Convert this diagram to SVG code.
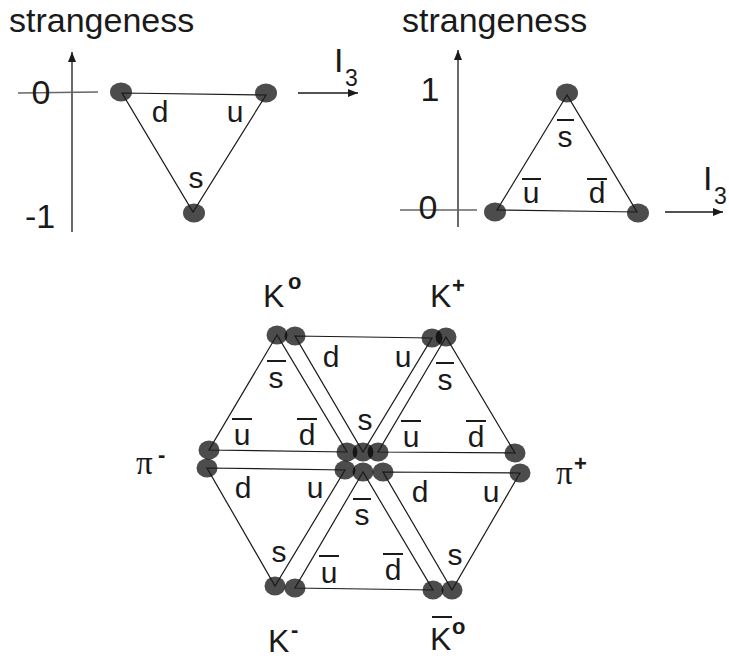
<svg xmlns="http://www.w3.org/2000/svg" width="729" height="658" viewBox="0 0 729 658">
<style>
text{font-family:"Liberation Sans",Arial,sans-serif;fill:#1a1a1a}
.big{font-size:34px}
.lab{font-size:30px;text-anchor:middle}
.part{font-size:32px}
.sup{font-size:22px;font-weight:bold}
.ax{stroke:#1a1a1a;stroke-width:1.3;fill:none}
.hax{stroke:#666;stroke-width:1.5;fill:none}
.tri{stroke:#1a1a1a;stroke-width:1.2;fill:none;stroke-linejoin:miter}
.bar{stroke:#1a1a1a;stroke-width:2}
.dot{fill:#000;fill-opacity:0.7}
.pi{font-family:"Liberation Serif","DejaVu Serif",serif;font-size:33px}
</style>
<defs>
<marker id="ah" markerWidth="10" markerHeight="8" refX="10" refY="4" orient="auto" markerUnits="userSpaceOnUse">
<path d="M0,0 L10,4 L0,8 Z" fill="#1a1a1a"/>
</marker>
</defs>

<g id="axes">
<line class="ax" x1="72" y1="232" x2="72" y2="52" marker-end="url(#ah)"/>
<line class="hax" x1="18" y1="93" x2="98" y2="92"/>
<line class="ax" x1="298" y1="93" x2="358" y2="93" marker-end="url(#ah)"/>
<line class="ax" x1="458" y1="227" x2="458" y2="50" marker-end="url(#ah)"/>
<line class="hax" x1="400" y1="210" x2="477" y2="210"/>
<line class="ax" x1="665" y1="212" x2="723" y2="212" marker-end="url(#ah)"/>
</g>

<g id="axis-labels">
<text class="big" x="9" y="32">strangeness</text>
<text class="big" x="402" y="32">strangeness</text>
<text class="big" x="41" y="104" text-anchor="middle">0</text>
<text class="big" x="25" y="228">-1</text>
<text class="big" x="430" y="101" text-anchor="middle">1</text>
<text class="big" x="428" y="219" text-anchor="middle">0</text>
<text class="big" x="334" y="72">I</text>
<text x="345" y="86" style="font-size:23px">3</text>
<text class="big" x="703" y="190">I</text>
<text x="714" y="204" style="font-size:23px">3</text>
</g>

<g id="dots-quark">
<ellipse class="dot" cx="121" cy="92" rx="11" ry="9.5"/>
<ellipse class="dot" cx="266" cy="93" rx="11" ry="9.5"/>
<ellipse class="dot" cx="194" cy="213" rx="11" ry="9.5"/>
</g>
<g id="dots-antiquark">
<ellipse class="dot" cx="567" cy="93" rx="11" ry="9.5"/>
<ellipse class="dot" cx="495" cy="212" rx="11" ry="9.5"/>
<ellipse class="dot" cx="638" cy="213" rx="11" ry="9.5"/>
</g>
<g id="node-K0"><ellipse class="dot" cx="277" cy="335" rx="10.5" ry="9.5"/><ellipse class="dot" cx="295" cy="336" rx="10.5" ry="9.5"/></g>
<g id="node-Kplus"><ellipse class="dot" cx="432" cy="338" rx="10.5" ry="9.5"/><ellipse class="dot" cx="446" cy="337" rx="10.5" ry="9.5"/></g>
<g id="node-piminus"><ellipse class="dot" cx="209" cy="450" rx="10.5" ry="9.5"/><ellipse class="dot" cx="207" cy="468" rx="10.5" ry="9.5"/></g>
<g id="node-piplus"><ellipse class="dot" cx="515" cy="453" rx="10.5" ry="9.5"/><ellipse class="dot" cx="520" cy="473" rx="10.5" ry="9.5"/></g>
<g id="node-center">
<ellipse class="dot" cx="347" cy="452" rx="10.5" ry="9.5"/>
<ellipse class="dot" cx="363" cy="452" rx="10.5" ry="9.5"/>
<ellipse class="dot" cx="378" cy="452" rx="10.5" ry="9.5"/>
<ellipse class="dot" cx="345" cy="470" rx="10.5" ry="9.5"/>
<ellipse class="dot" cx="363" cy="472" rx="10.5" ry="9.5"/>
<ellipse class="dot" cx="383" cy="472" rx="10.5" ry="9.5"/>
</g>
<g id="node-Kminus"><ellipse class="dot" cx="275" cy="586" rx="10.5" ry="9.5"/><ellipse class="dot" cx="295" cy="588" rx="10.5" ry="9.5"/></g>
<g id="node-K0bar"><ellipse class="dot" cx="433" cy="590" rx="10.5" ry="9.5"/><ellipse class="dot" cx="452" cy="590" rx="10.5" ry="9.5"/></g>

<g id="connectors">
<polygon class="tri" points="122,93 266,95 193,212"/>
<polygon class="tri" points="567,95 497,210 637,212"/>
<polygon class="tri" points="277,335 209,450 347,452"/>
<polygon class="tri" points="295,336 432,338 363,452"/>
<polygon class="tri" points="446,337 378,452 515,453"/>
<polygon class="tri" points="207,468 345,470 275,586"/>
<polygon class="tri" points="363,472 295,588 433,590"/>
<polygon class="tri" points="383,472 520,473 452,590"/>
</g>

<g id="quark-labels">
<text class="lab" x="160" y="122">d</text>
<text class="lab" x="235" y="122">u</text>
<text class="lab" x="196" y="188">s</text>

<text class="lab" x="565" y="147">s</text>
<text class="lab" x="531" y="203">u</text>
<text class="lab" x="597" y="203">d</text>

<text class="lab" x="276" y="388">s</text>
<text class="lab" x="242" y="445">u</text>
<text class="lab" x="307" y="445">d</text>

<text class="lab" x="331" y="367">d</text>
<text class="lab" x="403" y="367">u</text>
<text class="lab" x="365" y="430">s</text>

<text class="lab" x="445" y="390">s</text>
<text class="lab" x="411" y="447">u</text>
<text class="lab" x="476" y="447">d</text>

<text class="lab" x="243" y="498">d</text>
<text class="lab" x="315" y="498">u</text>
<text class="lab" x="279" y="562">s</text>

<text class="lab" x="362" y="525">s</text>
<text class="lab" x="329" y="583">u</text>
<text class="lab" x="393" y="580">d</text>

<text class="lab" x="420" y="502">d</text>
<text class="lab" x="491" y="502">u</text>
<text class="lab" x="455" y="565">s</text>
</g>

<g id="bars">
<line class="bar" x1="557" y1="120" x2="574" y2="120"/>
<line class="bar" x1="522" y1="179" x2="541" y2="179"/>
<line class="bar" x1="587" y1="179" x2="607" y2="179"/>
<line class="bar" x1="267" y1="361" x2="286" y2="361"/>
<line class="bar" x1="232" y1="419" x2="252" y2="419"/>
<line class="bar" x1="297" y1="419" x2="317" y2="419"/>
<line class="bar" x1="436" y1="363" x2="454" y2="363"/>
<line class="bar" x1="401" y1="421" x2="421" y2="421"/>
<line class="bar" x1="466" y1="421" x2="486" y2="421"/>
<line class="bar" x1="353" y1="499" x2="371" y2="499"/>
<line class="bar" x1="319" y1="556" x2="339" y2="556"/>
<line class="bar" x1="383" y1="554" x2="403" y2="554"/>
<line class="bar" x1="432" y1="617" x2="452" y2="617"/>
</g>

<g id="particle-labels">
<text class="part" x="263" y="307">K</text><text class="sup" x="288" y="289">o</text>
<text class="part" x="430" y="307">K</text><text class="sup" x="452" y="293">+</text>
<text class="part" x="268" y="652">K</text><text class="sup" x="291" y="637">-</text>
<text class="part" x="430" y="650">K</text><text class="sup" x="452" y="634">o</text>
<text class="pi" x="556" y="484">π</text><text class="sup" x="574" y="471">+</text>
<text class="pi" x="136" y="474">π</text><text class="sup" x="158" y="462">-</text>
</g>
</svg>
